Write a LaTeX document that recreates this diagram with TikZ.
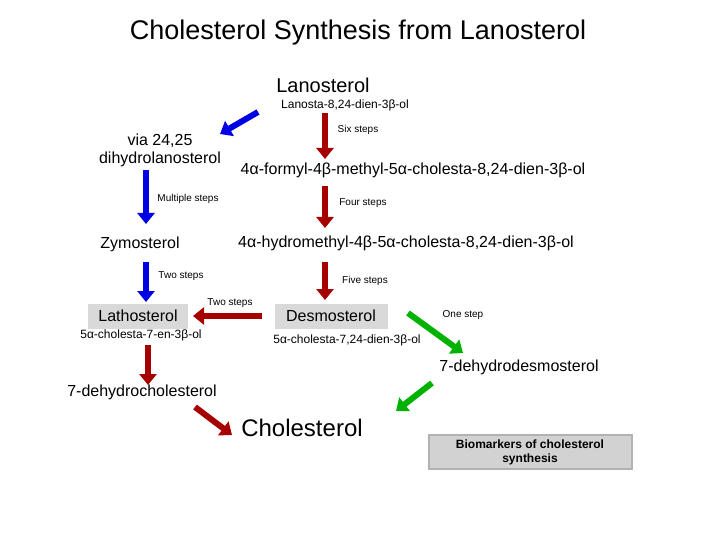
\documentclass[tikz,border=0pt]{standalone}
\usepackage{fontspec}
\setmainfont{Liberation Sans}
\usetikzlibrary{arrows.meta}
\tikzset{
    fat arrow/.style={line width=6pt, -{Triangle[length=11pt, width=17pt]}}, % thick block arrows
    red step/.style={fat arrow, draw=red!65!black},
    blue step/.style={fat arrow, draw=blue!90!black},
    green step/.style={fat arrow, draw=green!70!black},
    note/.style={font=\fontsize{10}{11}\selectfont},
    chem/.style={font=\fontsize{12}{13}\selectfont},
    mol/.style={font=\fontsize{16}{18}\selectfont},
    gray box/.style={fill=gray!30, minimum width=100pt, minimum height=25pt},
}
\begin{document}
\begin{tikzpicture}[x=1pt, y=-1pt]
\useasboundingbox (0,0) rectangle (720,540);
\node[font=\fontsize{27}{30}\selectfont] (title) at (358,33) {Cholesterol Synthesis from Lanosterol};
\node[font=\fontsize{20}{22}\selectfont] (lan) at (323,85) {Lanosterol};
\node[chem] (lanname) at (345,105) {Lanosta-8,24-dien-3β-ol};
\node[mol, align=center] (via) at (160,150) {via 24,25\\dihydrolanosterol};
\node[mol] (formyl) at (413,170) {4α-formyl-4β-methyl-5α-cholesta-8,24-dien-3β-ol};
\node[mol] (zymo) at (140,244) {Zymosterol};
\node[mol] (hydro) at (406,243) {4α-hydromethyl-4β-5α-cholesta-8,24-dien-3β-ol};
\node[mol, gray box] (latho) at (138,316) {Lathosterol};
\node[chem] (lathoname) at (141,335) {5α-cholesta-7-en-3β-ol};
\node[mol, gray box, minimum width=113pt] (desmo) at (331,316) {Desmosterol};
\node[chem] (desmoname) at (347,340) {5α-cholesta-7,24-dien-3β-ol};
\node[mol] (dhd) at (519,367) {7-dehydrodesmosterol};
\node[mol] (dhc) at (142,392) {7-dehydrocholesterol};
\node[font=\fontsize{24}{26}\selectfont] (chol) at (302,428) {Cholesterol};
\node[draw=gray!60, line width=2pt, fill=gray!35, minimum width=203pt, minimum height=34pt,
      align=center, font=\bfseries\fontsize{12}{14}\selectfont] (bio) at (530,452)
      {Biomarkers of cholesterol\\synthesis};
% step labels
\node[note] (s1) at (358,130) {Six steps};
\node[note] (s2) at (188,199) {Multiple steps};
\node[note] (s3) at (363,203) {Four steps};
\node[note] (s4) at (181,276) {Two steps};
\node[note] (s5) at (365,281) {Five steps};
\node[note] (s6) at (230,303) {Two steps};
\node[note] (s7) at (463,315) {One step};
% arrows
\coordinate (a1) at (325,113); \coordinate (a2) at (325,159);
\coordinate (a3) at (325,186); \coordinate (a4) at (325,228);
\coordinate (a5) at (325,262); \coordinate (a6) at (325,300);
\coordinate (b1) at (258,112); \coordinate (b2) at (220,134);
\coordinate (b3) at (146,170); \coordinate (b4) at (146,224);
\coordinate (b5) at (146,262); \coordinate (b6) at (146,302);
\coordinate (c1) at (262,316); \coordinate (c2) at (193,316);
\coordinate (c3) at (148,345); \coordinate (c4) at (148,385);
\coordinate (c5) at (195,407); \coordinate (c6) at (232,435);
\coordinate (g1) at (408,313); \coordinate (g2) at (463,353);
\coordinate (g3) at (432,383); \coordinate (g4) at (396,411);
\draw[red step] (a1) -- (a2);
\draw[red step] (a3) -- (a4);
\draw[red step] (a5) -- (a6);
\draw[blue step] (b1) -- (b2);
\draw[blue step] (b3) -- (b4);
\draw[blue step] (b5) -- (b6);
\draw[red step] (c1) -- (c2);
\draw[red step] (c3) -- (c4);
\draw[red step] (c5) -- (c6);
\draw[green step] (g1) -- (g2);
\draw[green step] (g3) -- (g4);
\end{tikzpicture}
\end{document}
